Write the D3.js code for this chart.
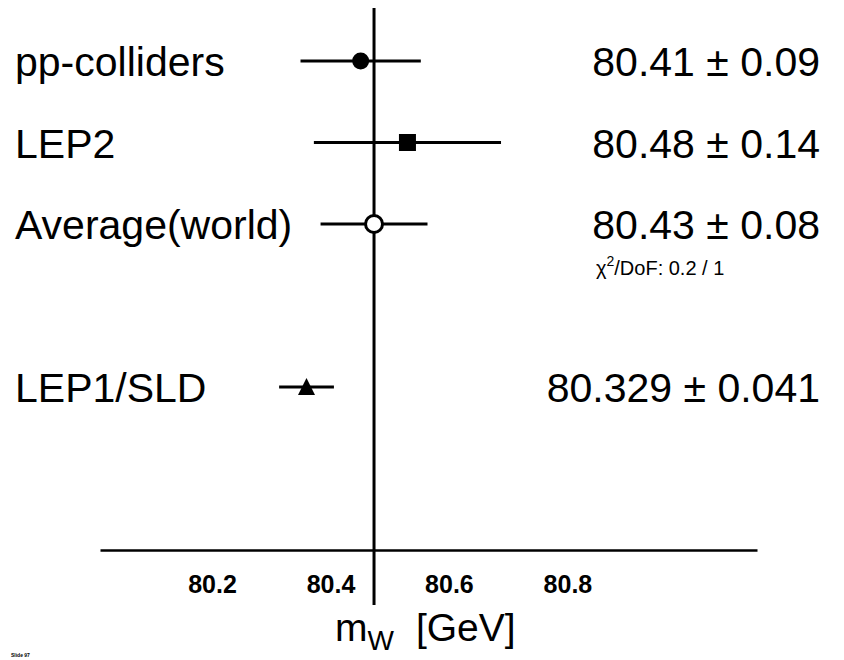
<!DOCTYPE html>
<html>
<head>
<meta charset="utf-8">
<script src="https://cdn.jsdelivr.net/npm/d3@7"></script>
<style>
  body { margin: 0; background: #fff; }
  text { font-family: "Liberation Sans", Arial, Helvetica, sans-serif; fill: #000; }
</style>
</head>
<body>
<div id="chart"></div>
<script>
// measurements of m_W (GeV)
const labels = ["pp-colliders", "LEP2", "Average(world)", "LEP1/SLD"];
const values = [80.41, 80.48, 80.43, 80.329];
const errors = [0.09, 0.14, 0.08, 0.041];
const valueText = ["80.41 \u00b1 0.09", "80.48 \u00b1 0.14", "80.43 \u00b1 0.08", "80.329 \u00b1 0.041"];
const rows = [0, 1, 2, 4];
const markers = ["dot", "square", "open", "triangle"];
const tickValues = [80.2, 80.4, 80.6, 80.8];
const average = 80.43;
const chi2Text = "/DoF: 0.2 / 1";

const W = 844, H = 660;
const svg = d3.select("#chart").append("svg")
    .attr("width", W)
    .attr("height", H);

// points and error bars
const xScale = d3.scaleLinear()
    .domain([80.02, 81.0])
    .range([100, 755]);

// the printed axis labels sit on a slightly tighter scale than the points
const axisScale = d3.scaleLinear()
    .domain([80.011, 81.12])
    .range([100, 757]);

const yScale = d3.scaleLinear()
    .domain([0, 4])
    .range([61, 387]);

const axisY = 550;

// x axis
const xAxis = d3.axisBottom(axisScale)
    .tickValues(tickValues)
    .tickSize(0)
    .tickPadding(25)
    .tickFormat(d3.format(".1f"));

const ax = svg.append("g")
    .attr("transform", `translate(0, ${axisY})`)
    .call(xAxis);
ax.select(".domain").attr("stroke", "#000").attr("stroke-width", 2.5);
ax.selectAll(".tick text")
    .style("font-family", "Liberation Sans, Arial, sans-serif")
    .style("font-size", "25px")
    .style("font-weight", "bold")
    .attr("fill", "#000");

// average line, runs a bit past the axis
svg.append("line")
    .attr("x1", xScale(average))
    .attr("x2", xScale(average))
    .attr("y1", 8)
    .attr("y2", 605)
    .attr("stroke", "#000")
    .attr("stroke-width", 3);

// axis title
const title = svg.append("text")
    .attr("x", 335)
    .attr("y", 641)
    .style("font-size", "39px");
title.append("tspan").text("m");
title.append("tspan").attr("dy", 9).style("font-size", "28px").text("W");
title.append("tspan").attr("dy", -9).attr("dx", 22).text("[GeV]");

// error bars and markers
const g = svg.append("g");
values.forEach((v, i) => {
    const y = yScale(rows[i]);
    g.append("line")
        .attr("x1", xScale(v - errors[i]))
        .attr("x2", xScale(v + errors[i]))
        .attr("y1", y)
        .attr("y2", y)
        .attr("stroke", "#000")
        .attr("stroke-width", 3);

    const cx = xScale(v);
    if (markers[i] === "dot") {
        g.append("circle").attr("cx", cx).attr("cy", y).attr("r", 8.5).attr("fill", "#000");
    } else if (markers[i] === "square") {
        g.append("rect").attr("x", cx - 8.5).attr("y", y - 8.5)
            .attr("width", 17).attr("height", 17).attr("fill", "#000");
    } else if (markers[i] === "open") {
        g.append("circle").attr("cx", cx).attr("cy", y).attr("r", 8.5)
            .attr("fill", "#fff").attr("stroke", "#000").attr("stroke-width", 3);
    } else {
        g.append("path")
            .attr("d", `M${cx},${y - 9}L${cx + 8.5},${y + 8}L${cx - 8.5},${y + 8}Z`)
            .attr("fill", "#000");
    }

    // left label
    svg.append("text")
        .attr("x", 15)
        .attr("y", y + 15)
        .style("font-size", "41px")
        .text(labels[i]);

    // right value
    svg.append("text")
        .attr("x", 820)
        .attr("y", y + 15)
        .attr("text-anchor", "end")
        .style("font-size", "41px")
        .text(valueText[i]);
});

// chi2 note
const chi = svg.append("text")
    .attr("x", 596)
    .attr("y", yScale(2) + 51)
    .style("font-size", "20px");
chi.append("tspan").text("\u03c7");
chi.append("tspan").attr("dy", -9).style("font-size", "14px").text("2");
chi.append("tspan").attr("dy", 9).text(chi2Text);

// slide tag
svg.append("text")
    .attr("x", 11)
    .attr("y", 657)
    .style("font-size", "5px")
    .style("font-weight", "bold")
    .text("Slide 97");
</script>
</body>
</html>
